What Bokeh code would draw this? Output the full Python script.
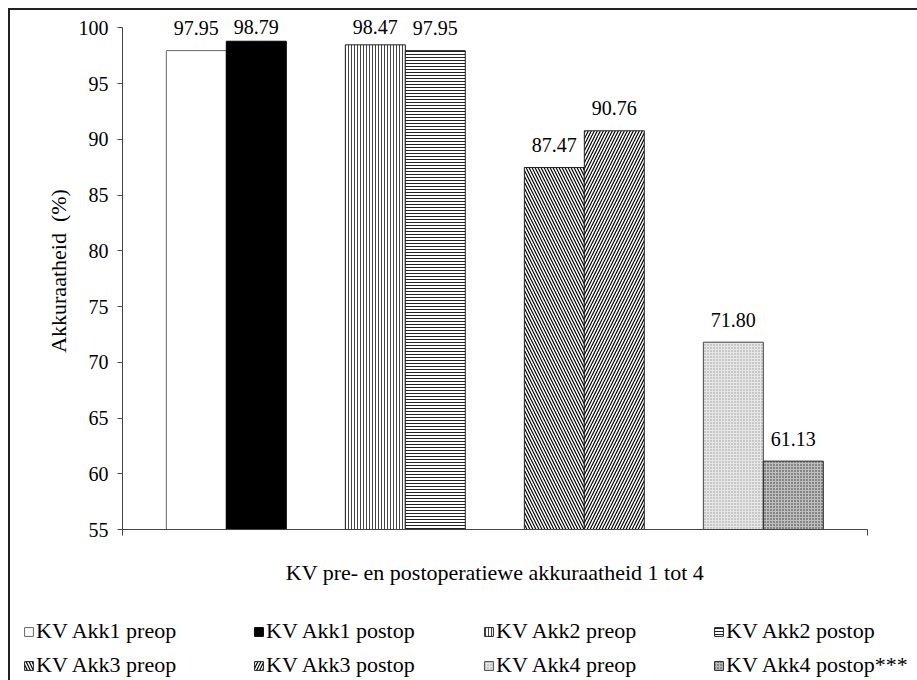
from bokeh.plotting import figure
from bokeh.layouts import column
from bokeh.models import Range1d, FixedTicker, Legend, LegendItem, CustomJSTickFormatter
from bokeh.embed import file_html
from bokeh.resources import INLINE
from bokeh.core.properties import value
import numpy as np

# accuracy per test (pre- and postoperative)
groups = ["Akk1", "Akk2", "Akk3", "Akk4"]
preop = [97.95, 98.47, 87.47, 71.80]
postop = [98.79, 97.95, 90.76, 61.13]
series_names = [
    "KV Akk1 preop", "KV Akk1 postop",
    "KV Akk2 preop", "KV Akk2 postop",
    "KV Akk3 preop", "KV Akk3 postop",
    "KV Akk4 preop", "KV Akk4 postop***",
]
y_ticks = [55, 60, 65, 70, 75, 80, 85, 90, 95, 100]
x_title = "KV pre- en postoperatiewe akkuraatheid 1 tot 4"
y_title = "Akkuraatheid\u00a0 (%)"

FONT = "Liberation Serif"
Y_MIN, Y_MAX = 55, 101.37
X_MAX = 4.162          # category axis length (in category widths)
FIRST = 0.58           # centre of the first category pair
BAR_W = 0.335

# one fill style per bar, same order as series_names
bar_styles = [
    dict(fill_color="white", line_color="#666666"),
    dict(fill_color="black", line_color="black"),
    dict(fill_color="white", line_color="#222222", hatch_pattern="vertical_line",
         hatch_color="#444444", hatch_scale=3, hatch_weight=1),
    dict(fill_color="white", line_color="#222222", hatch_pattern="horizontal_line",
         hatch_color="#222222", hatch_scale=3, hatch_weight=1),
    dict(fill_color="white", line_color="#222222", hatch_pattern="left_diagonal_line",
         hatch_color="black", hatch_scale=6, hatch_weight=1.2),
    dict(fill_color="white", line_color="#222222", hatch_pattern="right_diagonal_line",
         hatch_color="black", hatch_scale=6, hatch_weight=1.2),
    dict(fill_color="#e6e6e6", line_color="#444444", hatch_pattern="dot",
         hatch_color="#999999", hatch_scale=3, hatch_weight=1),
    dict(fill_color="#bdbdbd", line_color="#222222", hatch_pattern="dot",
         hatch_color="#333333", hatch_scale=3, hatch_weight=1),
]

# ---- main chart -------------------------------------------------------------
p = figure(width=907, height=590,
           x_range=Range1d(0, X_MAX), y_range=Range1d(Y_MIN, Y_MAX),
           output_backend="svg", toolbar_location=None,
           min_border_left=112, min_border_right=50,
           min_border_top=2, min_border_bottom=71)
p.frame_align = False
p.outline_line_color = None
p.xgrid.visible = False
p.ygrid.visible = False

bar_x, bar_top = [], []
for g in range(len(groups)):
    for k, vals in enumerate([preop, postop]):
        idx = 2 * g + k
        x = g + FIRST + (k - 0.5) * BAR_W
        p.vbar(x=[x], top=[vals[g]], bottom=Y_MIN, width=BAR_W,
               line_width=1, **bar_styles[idx])
        bar_x.append(x)
        bar_top.append(vals[g])

bar_top = np.array(bar_top)
label_y = np.minimum(bar_top + 2.0, 100.05)
p.text(x=bar_x, y=label_y, text=[f"{v:.2f}" for v in bar_top],
       text_align="center", text_baseline="middle",
       text_font=value(FONT), text_font_size="20px", text_color="black")

# y axis
ya = p.yaxis[0]
ya.ticker = FixedTicker(ticks=y_ticks)
ya.bounds = (55, 100)
ya.major_tick_out = 5
ya.major_tick_in = 0
ya.minor_tick_out = 0
ya.minor_tick_in = 0
ya.axis_line_color = "#444444"
ya.major_tick_line_color = "#444444"
ya.major_label_text_font = FONT
ya.major_label_text_font_size = "20px"
ya.major_label_text_color = "black"
ya.major_label_standoff = 9
ya.axis_label = y_title
ya.axis_label_text_font = FONT
ya.axis_label_text_font_size = "22px"
ya.axis_label_text_font_style = "normal"
ya.axis_label_text_color = "black"
ya.axis_label_standoff = 5

# x axis
xa = p.xaxis[0]
xa.ticker = FixedTicker(ticks=[0, X_MAX])
xa.formatter = CustomJSTickFormatter(code="return ''")
xa.major_tick_out = 6
xa.major_tick_in = 0
xa.minor_tick_out = 0
xa.minor_tick_in = 0
xa.axis_line_color = "#444444"
xa.major_tick_line_color = "#444444"
xa.major_label_text_font_size = "1px"
xa.axis_label = x_title
xa.axis_label_text_font = FONT
xa.axis_label_text_font_size = "22px"
xa.axis_label_text_font_style = "normal"
xa.axis_label_text_color = "black"
xa.axis_label_standoff = 24

# ---- legend strip -----------------------------------------------------------
q = figure(width=907, height=80, x_range=Range1d(0, 1), y_range=Range1d(0, 1),
           output_backend="svg", toolbar_location=None,
           x_axis_location=None, y_axis_location=None,
           min_border=0)
q.frame_align = False
q.outline_line_color = None
q.xgrid.visible = False
q.ygrid.visible = False

items = []
for name, style in zip(series_names, bar_styles):
    # key renderer, kept outside the visible range
    r = q.vbar(x=[-1.0], top=[0.0], bottom=0, width=0.1, line_width=1, **style)
    items.append(LegendItem(label=name, renderers=[r]))

legend = Legend(items=items, orientation="horizontal", ncols=4,
                location=(13, 2),
                glyph_width=11, glyph_height=11, label_standoff=2,
                label_width=209, label_height=18, spacing=8,
                padding=0, margin=0,
                label_text_font=FONT, label_text_font_size="22px",
                label_text_color="black",
                border_line_color=None, background_fill_alpha=0)
q.add_layout(legend, "center")

page = column(p, q, spacing=0)
page.styles = {"margin-left": "8px", "margin-top": "8px",
               "border-left": "2px solid #222", "border-top": "2px solid #222"}

open("out.html", "w").write(file_html(page, INLINE))
